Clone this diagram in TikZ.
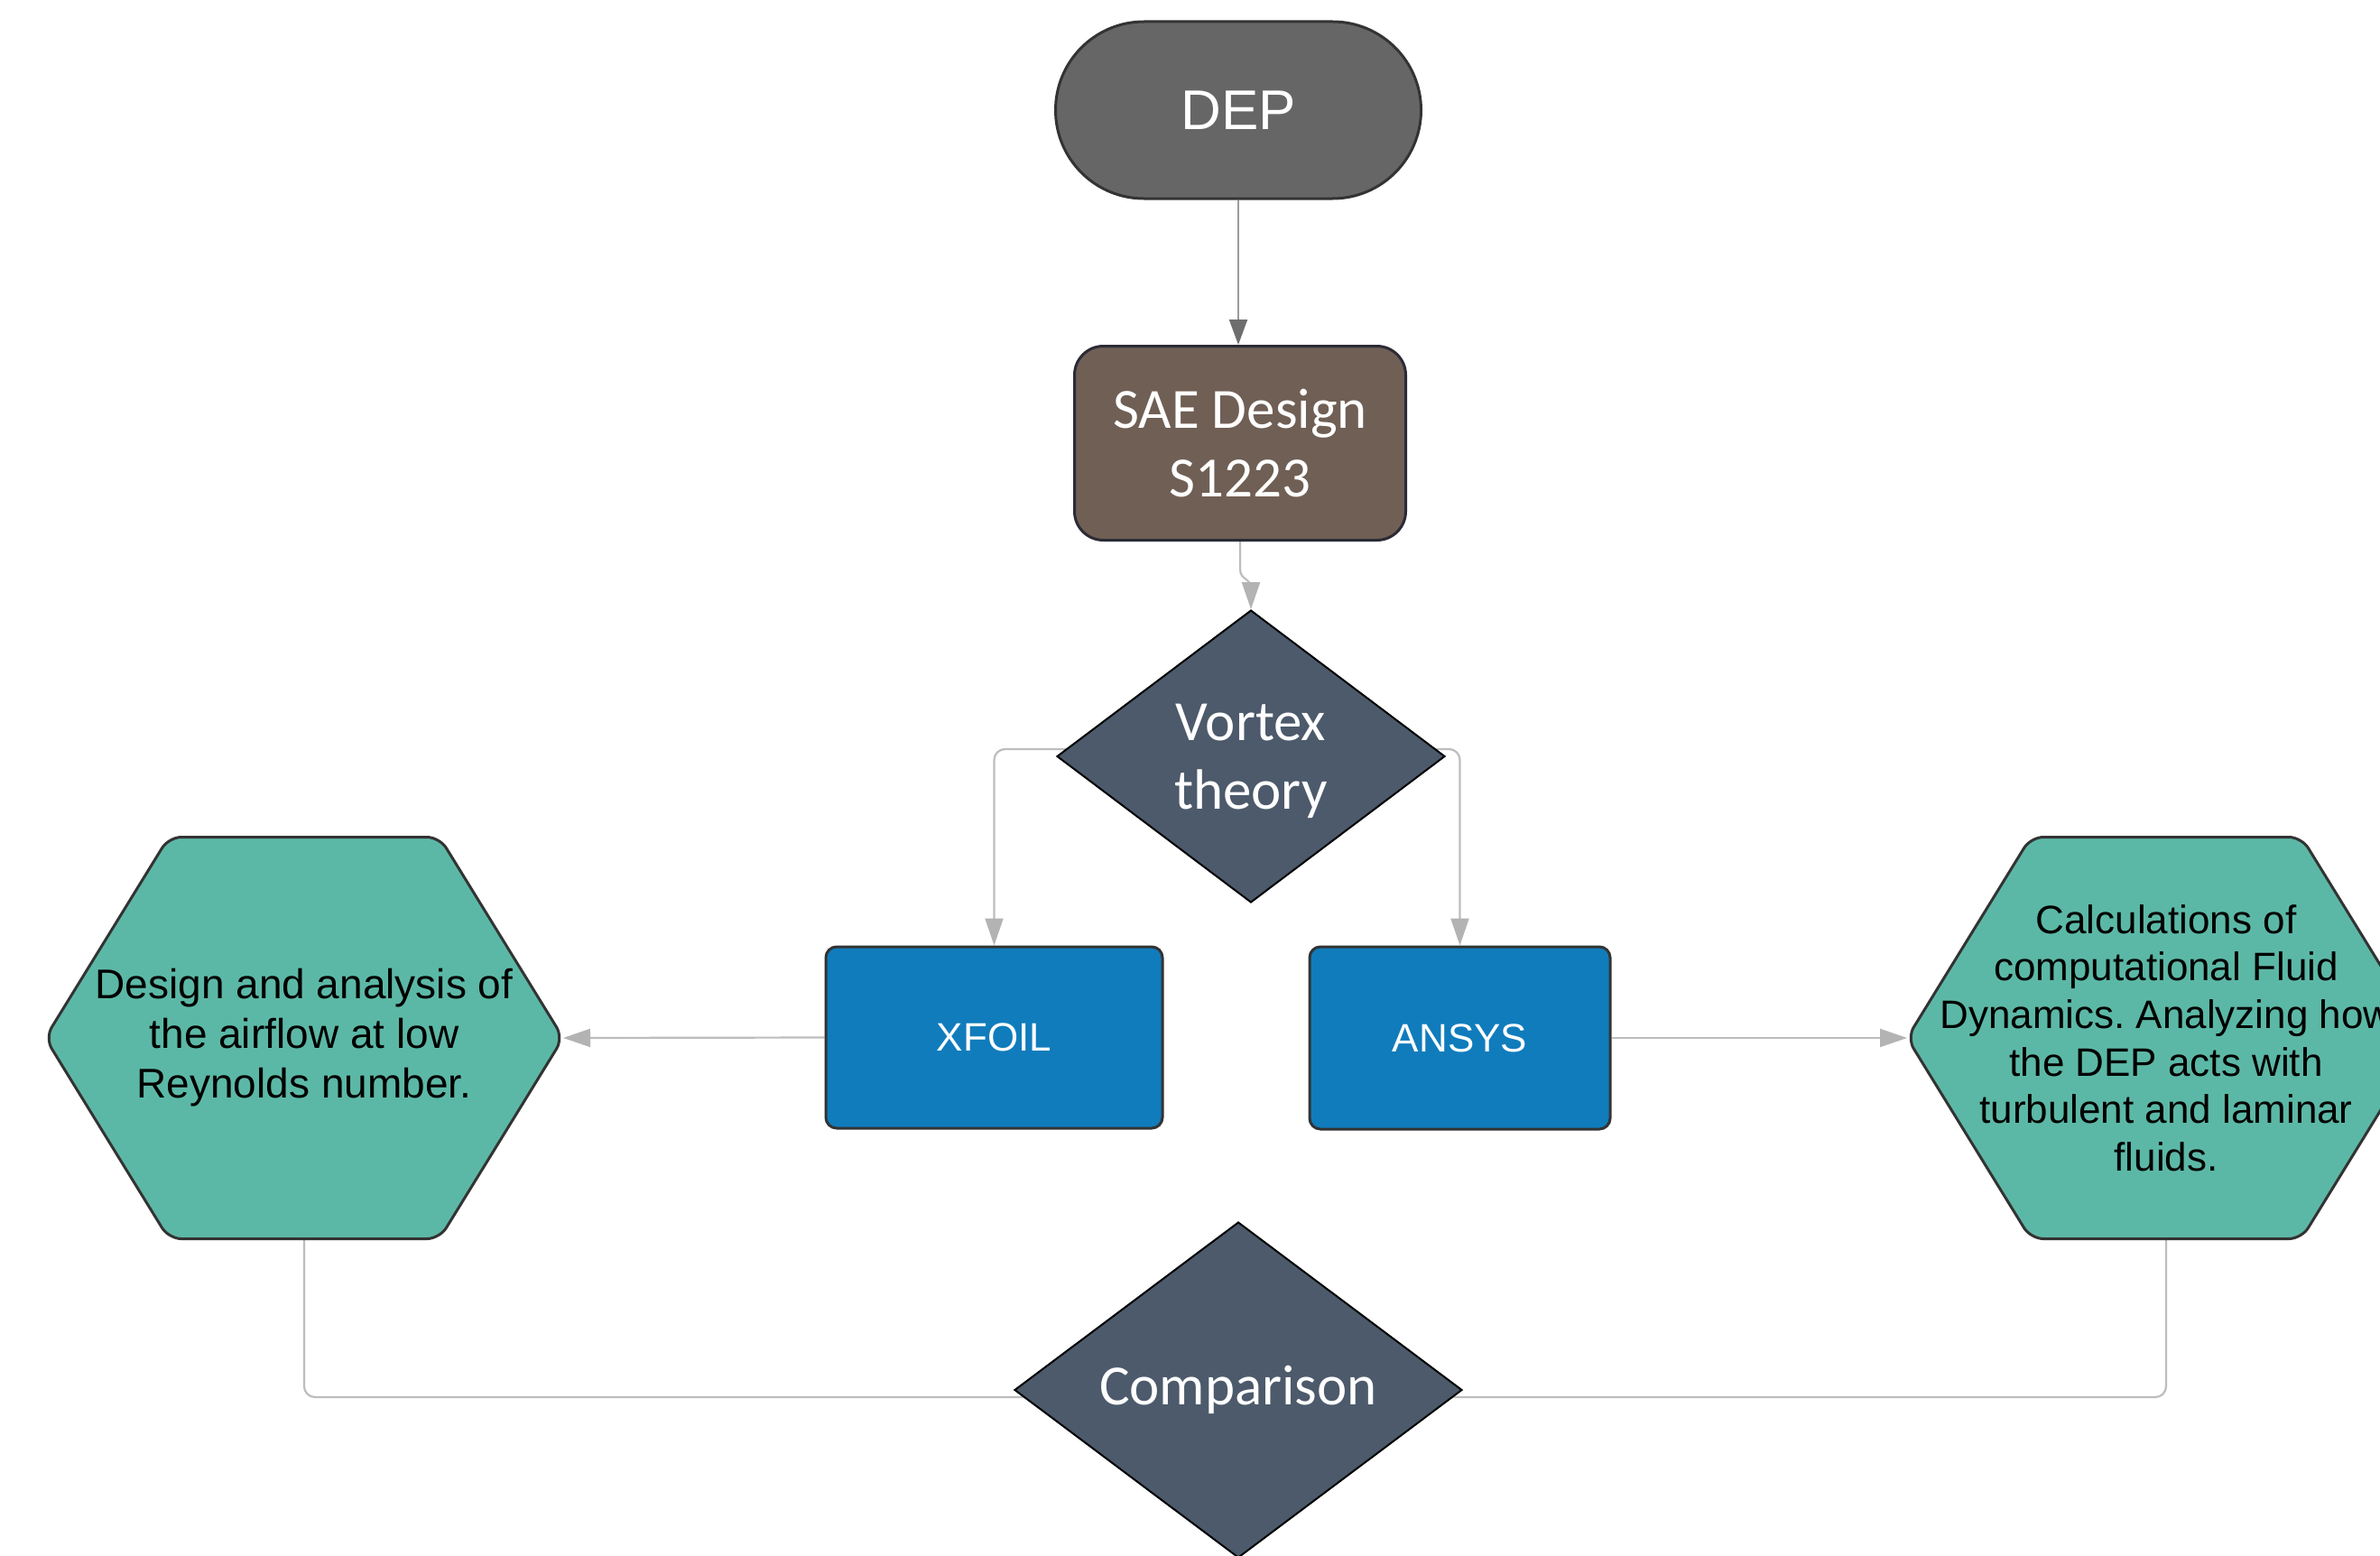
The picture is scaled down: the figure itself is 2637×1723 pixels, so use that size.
\documentclass[tikz,border=0pt]{standalone}
\usepackage{fontspec}
\setmainfont{Liberation Sans}
\newfontfamily\arialf{Liberation Sans}
\newfontfamily\califont{Carlito}
\usetikzlibrary{shapes.geometric,arrows.meta,calc}
\pgfdeclarelayer{bg}
\pgfsetlayers{bg,main}
\frenchspacing
\definecolor{depc}{HTML}{666666}
\definecolor{depb}{HTML}{333333}
\definecolor{saec}{HTML}{705F55}
\definecolor{saeb}{HTML}{2B2B36}
\definecolor{decc}{HTML}{4C5A6B}
\definecolor{boxc}{HTML}{107CBC}
\definecolor{hexc}{HTML}{5CB8A6}
\definecolor{edgec}{HTML}{333333}
\definecolor{connc}{HTML}{BDBDBD}
\definecolor{arrc}{HTML}{B3B3B3}
\definecolor{conndark}{HTML}{9A9A9A}
\definecolor{arrdark}{HTML}{6E6E6E}
\tikzset{
  depnode/.style={rectangle, rounded corners=49pt, minimum width=202.5pt, minimum height=98pt,
    fill=depc, draw=depb, line width=1.5pt, text=white, inner sep=0pt,
    font=\arialf\fontsize{31}{37}\selectfont},
  saenode/.style={rectangle, rounded corners=16pt, minimum width=183.5pt, minimum height=107.5pt,
    fill=saec, draw=saeb, line width=1.5pt, text=white, align=center, inner sep=0pt,
    font=\califont\fontsize{31.5}{38}\selectfont},
  decnode/.style={diamond, inner sep=0pt, fill=decc, draw=black, line width=1pt, text=white,
    align=center, font=\califont\fontsize{31.5}{38}\selectfont},
  toolnode/.style={rectangle, rounded corners=6pt, fill=boxc, draw=edgec, line width=1.5pt,
    text=white, inner sep=0pt, font=\arialf\fontsize{22}{26}\selectfont},
  hextext/.style={rectangle, minimum width=287pt, minimum height=222.5pt, inner sep=0pt,
    outer sep=0pt, align=center, text=black},
  hexshape/.style={fill=hexc, draw=edgec, line width=1.5pt, rounded corners=7pt},
  conn/.style={draw=connc, line width=1.1pt},
  arr/.style={-{Triangle[length=15pt,width=10pt,color=arrc]}},
  darr/.style={draw=conndark, line width=1.1pt, -{Triangle[length=14pt,width=10pt,color=arrdark]}}
}
\newcommand{\drawhexagon}[1]{%
  \draw[hexshape] (#1) ++(0,-222.5) -- ++(150,0) -- ++(137,222.5) -- ++(-137,222.5)
    -- ++(-300,0) -- ++(-137,-222.5) -- ++(137,-222.5) -- cycle;}
\begin{document}
\begin{tikzpicture}[x=0.5pt,y=-0.5pt]
\useasboundingbox (0,0) rectangle (2637,1723);
\begin{pgfonlayer}{bg}
  \fill[white] (0,0) rectangle (2637,1723);
\end{pgfonlayer}
\clip (0,0) rectangle (2637,1723);

% hexagon outlines
\drawhexagon{337,1150}
\drawhexagon{2400,1150}

% nodes
\node[depnode] (dep) at (1372,122) {DEP};
\node[saenode] (sae) at (1374,491) {SAE Design\\S1223};
\node[decnode, minimum width=215pt, minimum height=162pt, text depth=0pt] (vt) at (1386,838) {Vortex\\theory};
\node[toolnode, minimum width=186.5pt, minimum height=100.5pt] (xf) at (1101.5,1149.5) {XFOIL};
\node[toolnode, minimum width=166.5pt, minimum height=101pt] (an) at (1617.5,1150) {ANSYS};
\node[hextext, font=\arialf\fontsize{23}{27.5}\selectfont] (lh) at (337,1150)
  {Design and analysis of\\the airflow at low\\Reynolds number.};
\node[hextext, font=\arialf\fontsize{22}{26.3}\selectfont] (rh) at (2400,1150)
  {Calculations of\\computational Fluid\\Dynamics. Analyzing how\\the DEP acts with\\turbulent and laminar\\fluids.};
\node[decnode, minimum width=248pt, minimum height=186pt] (cmp) at (1372,1540) {Comparison};

% connectors
\begin{pgfonlayer}{bg}
  \draw[darr] (dep.south) -- (dep.south |- sae.north);
  \draw[conn,arr] (sae.south) -- ++(0,30) .. controls +(0,14) and +(0,-14) .. ($(vt.north)+(0,-22)$) -- (vt.north);
  \draw[conn,arr,rounded corners=6pt] ($(vt.center)+(0,-8)$) -| (xf.north);
  \draw[conn,arr,rounded corners=6pt] ($(vt.center)+(0,-8)$) -| (an.north);
  \draw[conn,arr] (xf.west) -- (lh.east);
  \draw[conn,arr] (an.east) -- (rh.west);
  \draw[conn,rounded corners=6pt] (lh.south) |- ($(cmp.center)+(0,8)$);
  \draw[conn,rounded corners=6pt] (rh.south) |- ($(cmp.center)+(0,8)$);
\end{pgfonlayer}
\end{tikzpicture}
\end{document}
